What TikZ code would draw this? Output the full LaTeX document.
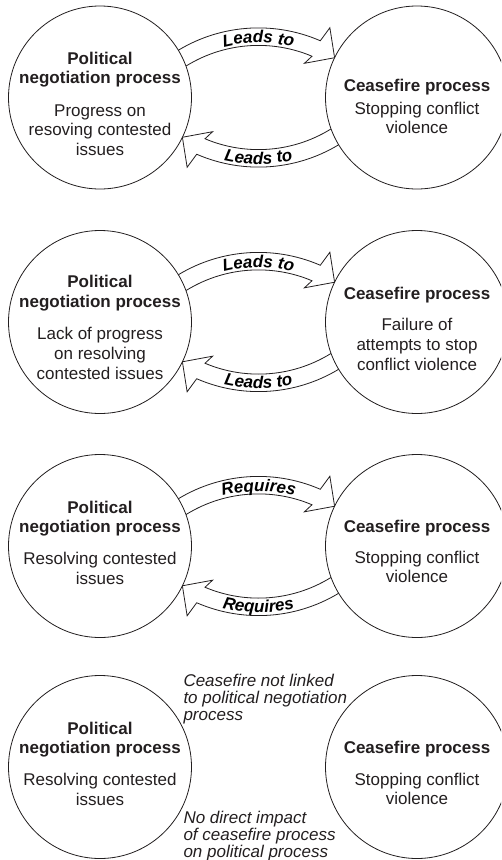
\documentclass[tikz,border=0pt]{standalone}
\usepackage{fontspec}
\setmainfont{Liberation Sans}
\usetikzlibrary{calc,decorations.text}
\pgfdeclarelayer{background}
\pgfsetlayers{background,main}
\definecolor{ink}{RGB}{35,31,32}
\newcommand\arcfont{\fontsize{17}{19}\selectfont\bfseries\itshape}

\tikzset{
  proc/.style={circle, draw=ink, fill=white, line width=0.8pt, minimum size=183pt, inner sep=0pt},
  ttl/.style={anchor=base, inner sep=0pt, text=ink, font=\fontsize{17}{19.5}\selectfont\bfseries},
  body/.style={anchor=base, inner sep=0pt, text=ink, font=\fontsize{17}{19.5}\selectfont},
  note/.style={anchor=base west, inner sep=0pt, text=ink, font=\fontsize{17}{17}\selectfont\itshape},
  band/.style={draw=ink, fill=white, line width=0.8pt, line join=miter},
  arclabel/.style={decorate, decoration={text along path, text align=center, text={#1}}},
  % curved hollow arrow, drawn about the centre of its arc
  pics/bandarrow/.style={code={
    \draw[band] (123:155) arc[start angle=123, end angle=66.5, radius=155]
      -- (65.3:170.8) -- (58.7:146.5) -- (69:128.1) -- (67.1:137.5)
      arc[start angle=67.1, end angle=123, radius=137.5] -- cycle;
  }}
}

\begin{document}
\begin{tikzpicture}[x=1pt,y=1pt]
\begin{pgfonlayer}{background}
  \fill[white] (0,0) rectangle (501,-860);
\end{pgfonlayer}
\clip (0,0) rectangle (501,-860);

% ---------- row 1 ----------
\node[proc] (L1) at (100,-97.5) {};
\node[proc] (R1) at (417,-97.5) {};
\coordinate (m1) at ($(L1)!0.5!(R1)$);
\node[ttl]  (L1a) at ($(L1)+(0,33.5)$) {Political};
\node[ttl]  (L1b) at ($(L1)+(0,14)$) {negotiation process};
\node[body] (L1c) at ($(L1)+(0,-18.5)$) {Progress on};
\node[body] (L1d) at ($(L1)+(0,-38)$) {resoving contested};
\node[body] (L1e) at ($(L1)+(0,-57.5)$) {issues};
\node[ttl]  (R1a) at ($(R1)+(0,6)$) {Ceasefire process};
\node[body] (R1b) at ($(R1)+(0,-16.5)$) {Stopping conflict};
\node[body] (R1c) at ($(R1)+(0,-35.5)$) {violence};
\begin{pgfonlayer}{background}
  \pic at ($(m1)+(0,-85.4)$) {bandarrow};
  \pic[rotate=180] at ($(m1)+(0,85.4)$) {bandarrow};
\end{pgfonlayer}
\begin{scope}
  \arcfont
  \path[shift={($(m1)+(0,-85.4)$)}, arclabel={Leads to}] (110:140) arc[start angle=110, end angle=70, radius=140];
  \path[shift={($(m1)+(0,85.4)$)}, arclabel={Leads to}] (250:152) arc[start angle=250, end angle=290, radius=152];
\end{scope}

% ---------- row 2 ----------
\node[proc] (L2) at (100,-322) {};
\node[proc] (R2) at (417,-322) {};
\coordinate (m2) at ($(L2)!0.5!(R2)$);
\node[ttl]  (L2a) at ($(L2)+(0,34.5)$) {Political};
\node[ttl]  (L2b) at ($(L2)+(0,14.5)$) {negotiation process};
\node[body] (L2c) at ($(L2)+(0,-17.5)$) {Lack of progress};
\node[body] (L2d) at ($(L2)+(0,-37.5)$) {on resolving};
\node[body] (L2e) at ($(L2)+(0,-57)$) {contested issues};
\node[ttl]  (R2a) at ($(R2)+(0,22.5)$) {Ceasefire process};
\node[body] (R2b) at ($(R2)+(0,-8.5)$) {Failure of};
\node[body] (R2c) at ($(R2)+(0,-28.5)$) {attempts to stop};
\node[body] (R2d) at ($(R2)+(0,-48.5)$) {conflict violence};
\begin{pgfonlayer}{background}
  \pic at ($(m2)+(0,-85.4)$) {bandarrow};
  \pic[rotate=180] at ($(m2)+(0,85.4)$) {bandarrow};
\end{pgfonlayer}
\begin{scope}
  \arcfont
  \path[shift={($(m2)+(0,-85.4)$)}, arclabel={Leads to}] (110:140) arc[start angle=110, end angle=70, radius=140];
  \path[shift={($(m2)+(0,85.4)$)}, arclabel={Leads to}] (250:152) arc[start angle=250, end angle=290, radius=152];
\end{scope}

% ---------- row 3 ----------
\node[proc] (L3) at (100,-546) {};
\node[proc] (R3) at (417,-546) {};
\coordinate (m3) at ($(L3)!0.5!(R3)$);
\node[ttl]  (L3a) at ($(L3)+(0,33)$) {Political};
\node[ttl]  (L3b) at ($(L3)+(0,13.5)$) {negotiation process};
\node[body] (L3c) at ($(L3)+(0,-18)$) {Resolving contested};
\node[body] (L3d) at ($(L3)+(0,-38)$) {issues};
\node[ttl]  (R3a) at ($(R3)+(0,13.5)$) {Ceasefire process};
\node[body] (R3b) at ($(R3)+(0,-17)$) {Stopping conflict};
\node[body] (R3c) at ($(R3)+(0,-36.5)$) {violence};
\begin{pgfonlayer}{background}
  \pic at ($(m3)+(0,-85.4)$) {bandarrow};
  \pic[rotate=180] at ($(m3)+(0,85.4)$) {bandarrow};
\end{pgfonlayer}
\begin{scope}
  \arcfont
  \path[shift={($(m3)+(0,-85.4)$)}, arclabel={Requires}] (110:140) arc[start angle=110, end angle=70, radius=140];
  \path[shift={($(m3)+(0,85.4)$)}, arclabel={Requires}] (250:152) arc[start angle=250, end angle=290, radius=152];
\end{scope}

% ---------- row 4 ----------
\node[proc] (L4) at (100,-767) {};
\node[proc] (R4) at (417,-767) {};
\coordinate (m4) at ($(L4)!0.5!(R4)$);
\node[ttl]  (L4a) at ($(L4)+(0,33)$) {Political};
\node[ttl]  (L4b) at ($(L4)+(0,13.5)$) {negotiation process};
\node[body] (L4c) at ($(L4)+(0,-18.5)$) {Resolving contested};
\node[body] (L4d) at ($(L4)+(0,-38)$) {issues};
\node[ttl]  (R4a) at ($(R4)+(0,13.5)$) {Ceasefire process};
\node[body] (R4b) at ($(R4)+(0,-18)$) {Stopping conflict};
\node[body] (R4c) at ($(R4)+(0,-37)$) {violence};
\node[note] (N1a) at ($(m4)+(-75.2,80.5)$) {Ceasefire not linked};
\node[note] (N1b) at ($(m4)+(-75.2,63.5)$) {to political negotiation};
\node[note] (N1c) at ($(m4)+(-75.2,46.5)$) {process};
\node[note] (N2a) at ($(m4)+(-75.2,-56)$) {No direct impact};
\node[note] (N2b) at ($(m4)+(-75.2,-73)$) {of ceasefire process};
\node[note] (N2c) at ($(m4)+(-75.2,-90)$) {on political process};
\end{tikzpicture}
\end{document}
